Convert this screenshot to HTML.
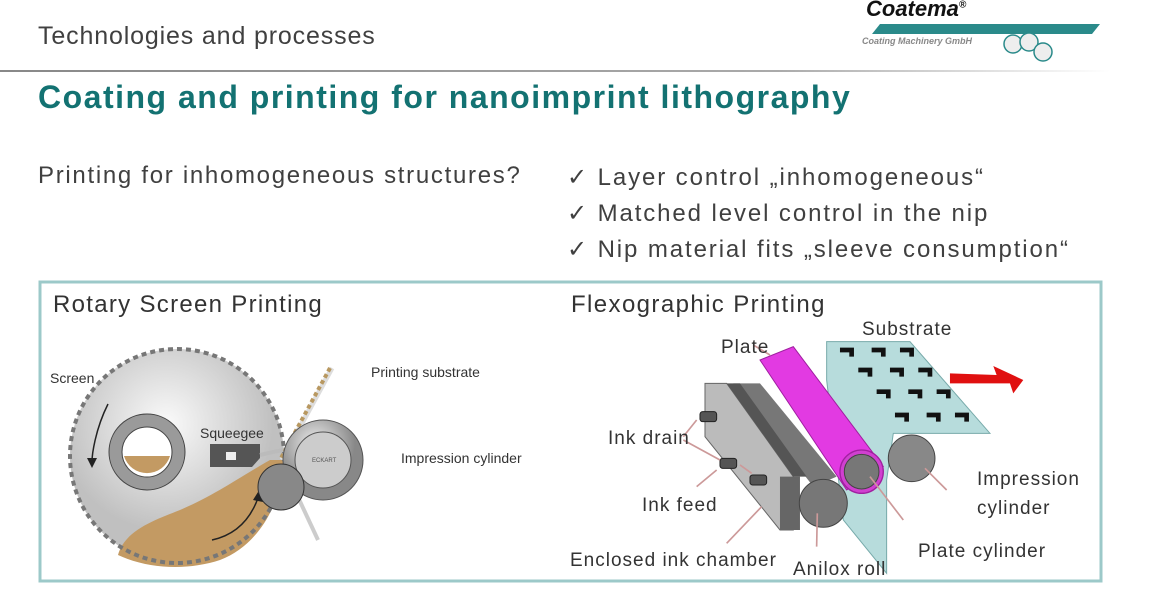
<!DOCTYPE html>
<html><head><meta charset="utf-8"><style>
body{margin:0;width:1152px;height:607px;background:#fff;position:relative;overflow:hidden;font-family:"Liberation Sans","DejaVu Sans",sans-serif;color:#333}
.t{position:absolute;white-space:nowrap}
</style></head><body>
<div class="t" style="left:38px;top:22px;font-size:25px;color:#404040;letter-spacing:0.85px">Technologies and processes</div>
<div style="position:absolute;left:0;top:70px;width:1110px;height:2px;background:linear-gradient(90deg,#888,#aaa 70%,#fff)"></div>
<div class="t" style="left:38px;top:79px;font-size:32px;font-weight:bold;color:#137272;letter-spacing:1.5px">Coating and printing for nanoimprint lithography</div>
<div class="t" style="left:38px;top:162px;font-size:24px;color:#404040;letter-spacing:1.7px">Printing for inhomogeneous structures?</div>
<div class="t" style="left:567px;top:160px;font-size:24px;color:#404040;line-height:36px;letter-spacing:1.9px">✓ Layer control „inhomogeneous“<br>✓ Matched level control in the nip<br>✓ Nip material fits „sleeve consumption“</div>
<div class="t" style="left:866px;top:-4px;font-size:22px;font-weight:bold;font-style:italic;color:#111">Coatema<sup style="font-size:10px">®</sup></div>
<div class="t" style="left:862px;top:36px;font-size:9px;font-weight:bold;font-style:italic;color:#888">Coating Machinery GmbH</div>
<svg style="position:absolute;left:0;top:0" width="1152" height="607">
<polygon points="880,24 1100,24 1092,34 872,34" fill="#2a8a8a"/>
<g fill="#eee" stroke="#2a8a8a" stroke-width="1.5"><circle cx="1013" cy="44" r="9"/><circle cx="1029" cy="42" r="9"/><circle cx="1043" cy="52" r="9"/></g>
<rect x="40" y="282" width="1061" height="299" fill="none" stroke="#9cc9c9" stroke-width="3"/>
<defs><radialGradient id="g" cx="0.45" cy="0.35"><stop offset="0" stop-color="#fafafa"/><stop offset="1" stop-color="#c0c0c0"/></radialGradient>
<radialGradient id="g2" cx="0.4" cy="0.3"><stop offset="0" stop-color="#eee"/><stop offset="1" stop-color="#888"/></radialGradient></defs>
<!-- rotary -->
<circle cx="177" cy="456" r="107" fill="url(#g)"/>
<path d="M118,555 C125,530 155,520 180,510 C215,495 235,480 270,460 L283,460 C283,500 260,545 220,560 C190,570 150,570 118,555Z" fill="#c39a63"/>
<circle cx="177" cy="456" r="107" fill="none" stroke="#777" stroke-width="4" stroke-dasharray="5 4"/>
<circle cx="147" cy="452" r="38" fill="#9a9a9a" stroke="#444"/>
<circle cx="147" cy="452" r="25" fill="#fff" stroke="#444"/>
<path d="M124,456 L170,456 A24,24 0 0 1 124,456Z" fill="#c39a63"/>
<polygon points="210,444 260,444 260,458 252,467 210,467" fill="#555"/>
<rect x="226" y="452" width="10" height="8" fill="#eee"/>
<path d="M260,455 C280,450 295,448 305,446" stroke="#bbb" stroke-width="4" fill="none"/>
<line x1="332" y1="368" x2="282" y2="460" stroke="#ddd" stroke-width="5"/>
<line x1="330" y1="368" x2="280" y2="460" stroke="#b89860" stroke-width="4" stroke-dasharray="4 3"/>
<line x1="290" y1="480" x2="318" y2="540" stroke="#ccc" stroke-width="4"/>
<circle cx="323" cy="460" r="40" fill="url(#g2)" stroke="#555"/>
<circle cx="323" cy="460" r="28" fill="#ccc" stroke="#555"/>
<text x="312" y="462" font-size="6" fill="#555">ECKART</text>
<circle cx="281" cy="487" r="23" fill="#888" stroke="#333"/>
<path d="M108,404 C95,430 92,455 92,462" stroke="#222" stroke-width="1.5" fill="none"/><polygon points="87,458 97,458 92,468" fill="#222"/>
<path d="M212,540 C235,535 250,520 258,498" stroke="#222" stroke-width="1.5" fill="none"/><polygon points="253,500 263,502 258,492" fill="#222"/>
<!-- flexo -->
<g transform="translate(560,280) scale(0.3333)">
<polygon points="800,185 1050,185 1290,460 1100,460 1000,460 980,600 980,880 850,720 800,300" fill="#b7dcdc" stroke="#7aa" stroke-width="3"/>
<g stroke="#111" stroke-width="14" fill="none">
<path d="M840,210 h35 v20"/><path d="M935,210 h35 v20"/><path d="M1020,210 h35 v20"/>
<path d="M895,270 h35 v20"/><path d="M990,270 h35 v20"/><path d="M1075,270 h35 v20"/>
<path d="M950,335 h35 v20"/><path d="M1045,335 h35 v20"/><path d="M1130,335 h35 v20"/>
<path d="M1005,405 h35 v20"/><path d="M1100,405 h35 v20"/><path d="M1185,405 h35 v20"/>
</g>
<polygon points="1170,280 1310,285 1300,258 1390,300 1360,340 1350,310 1170,310" fill="#e01010"/>
<polygon points="520,310 600,310 830,590 760,620" fill="#777"/>
<polygon points="435,310 500,310 700,590 700,750 660,750 435,470" fill="#bbb" stroke="#666" stroke-width="3"/>
<polygon points="660,590 720,590 720,750 660,750" fill="#666"/>
<polygon points="500,310 540,310 740,590 700,590" fill="#555"/>
<polygon points="600,240 700,200 970,560 860,630" fill="#e23ae2" stroke="#a020a0" stroke-width="3"/>
<circle cx="905" cy="575" r="65" fill="#d040d0" stroke="#a020a0" stroke-width="4"/>
<circle cx="905" cy="575" r="52" fill="#777" stroke="#444" stroke-width="3"/>
<circle cx="790" cy="670" r="72" fill="#777" stroke="#444" stroke-width="3"/>
<circle cx="1055" cy="535" r="70" fill="#888" stroke="#444" stroke-width="3"/>
<g fill="#555" stroke="#222" stroke-width="3"><rect x="420" y="395" width="50" height="30" rx="8"/><rect x="480" y="535" width="50" height="30" rx="8"/><rect x="570" y="585" width="50" height="30" rx="8"/></g>
<g stroke="#c99" stroke-width="5" fill="none">
<path d="M370,470 L410,420"/><path d="M370,480 L480,540"/><path d="M410,620 L470,570"/><path d="M540,555 L575,580"/><path d="M500,790 L605,680"/><path d="M770,800 L772,700"/><path d="M1030,720 L930,590"/><path d="M1160,630 L1095,565"/><path d="M580,195 L630,225"/>
</g>
</g>
<g font-family="Liberation Sans,sans-serif" fill="#333">
<text x="53" y="312" font-size="24" letter-spacing="1.3">Rotary Screen Printing</text>
<text x="50" y="383" font-size="14">Screen</text>
<text x="371" y="377" font-size="14">Printing substrate</text>
<text x="200" y="438" font-size="14">Squeegee</text>
<text x="401" y="463" font-size="14">Impression cylinder</text>
<text x="571" y="312" font-size="24" letter-spacing="1.4">Flexographic Printing</text>
<g letter-spacing="1">
<text x="862" y="335" font-size="19">Substrate</text>
<text x="721" y="353" font-size="19">Plate</text>
<text x="608" y="444" font-size="19">Ink drain</text>
<text x="642" y="511" font-size="19">Ink feed</text>
<text x="570" y="566" font-size="19">Enclosed ink chamber</text>
<text x="793" y="575" font-size="19">Anilox roll</text>
<text x="918" y="557" font-size="19">Plate cylinder</text>
<text x="977" y="485" font-size="19">Impression</text>
<text x="977" y="514" font-size="19">cylinder</text>
</g>
</g>
</svg>
</body></html>
